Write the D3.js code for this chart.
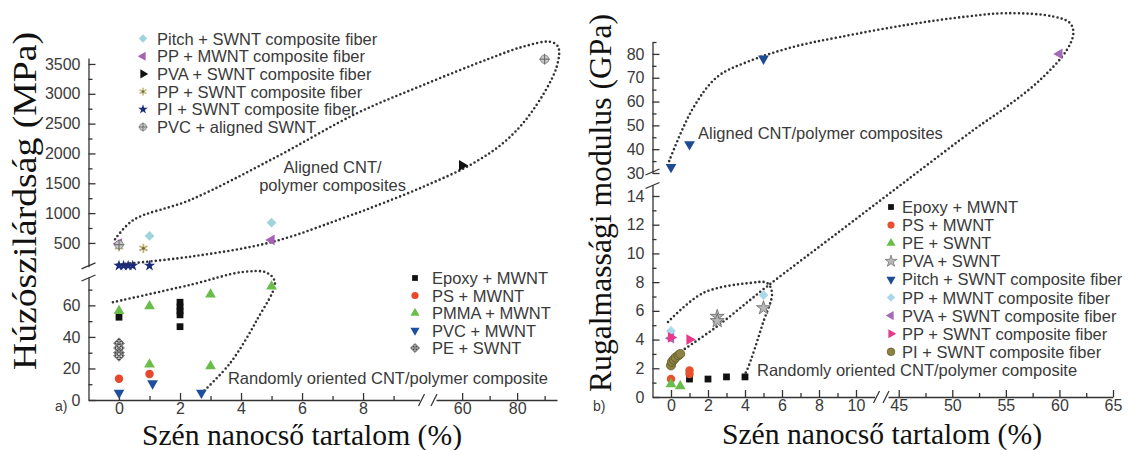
<!DOCTYPE html>
<html>
<head>
<meta charset="utf-8">
<script src="https://cdn.jsdelivr.net/npm/d3@7"></script>
<style>
  body { margin: 0; background: #fff; }
  svg { display: block; }
</style>
</head>
<body>
<svg id="chart"></svg>
<script>
// ---------- a) tensile strength (MPa) vs CNT content (%) ----------
// randomly oriented composites
const aEpoxyMwnt = [[0, 52.5], [2, 62], [2, 59], [2, 56.5], [2, 54], [2, 46.5]];
const aPsMwnt = [[0, 13.5], [1, 16.5]];
const aPmmaMwnt = [[0, 56.5], [1, 59.5], [1, 22.5], [3, 67], [3, 21.5], [5, 72]];
const aPvcMwnt = [[0, 4.5], [1.1, 10.5], [2.7, 4.5]];
const aPeSwnt = [[0, 36], [0, 33], [0, 30], [0, 28]];
// aligned composites / fibers
const aPitchSwntFiber = [[1, 617], [5, 840]];
const aPpMwntFiber = [[0, 490], [5, 550]];
const aPvaSwntFiber = [[60, 1800]];
const aPpSwntFiber = [[0, 437], [0.8, 410]];
const aPiSwntFiber = [[0, 120], [0.15, 120], [0.3, 120], [0.45, 120], [1, 120]];
const aPvcAlignedSwnt = [[0, 470], [90, 3580]];

// ---------- b) Young's modulus (GPa) vs CNT content (%) ----------
const bEpoxyMwnt = [[1, 1.25], [2, 1.25], [3, 1.4], [4, 1.4]];
const bPsMwnt = [[0, 1.25], [1, 1.6], [1, 1.85]];
const bPeSwnt = [[0, 0.9], [0.5, 0.75]];
const bPvaSwnt = [[2.5, 5.6], [2.5, 5.3], [5, 6.2]];
const bPitchSwntFiber = [[0, 32.5], [1, 42], [5, 78]];
const bPpMwntFiber = [[0, 4.6], [5, 7.1]];
const bPvaSwntFiber = [[0, 4.1], [60, 80]];
const bPpSwntFiber = [[0, 4.15], [1, 4.0]];
const bPiSwntFiber = [[0, 2.2], [0.05, 2.45], [0.15, 2.6], [0.25, 2.75], [0.4, 2.9], [0.5, 3.0]];

// ticks
const aXTicksLo = [0, 2, 4, 6, 8], aXMinorLo = [1, 3, 5, 7, 9];
const aXTicksHi = [60, 80], aXMinorHi = [70, 90];
const aYTicksLo = [0, 20, 40, 60], aYMinorLo = [10, 30, 50, 70];
const aYTicksHi = [500, 1000, 1500, 2000, 2500, 3000, 3500];
const aYMinorHi = [750, 1250, 1750, 2250, 2750, 3250];
const bXTicksLo = [0, 2, 4, 6, 8, 10], bXMinorLo = [1, 3, 5, 7, 9];
const bXTicksHi = [45, 50, 55, 60, 65], bXMinorHi = [47.5, 52.5, 57.5, 62.5];
const bYTicksLo = [0, 2, 4, 6, 8, 10, 12, 14], bYMinorLo = [1, 3, 5, 7, 9, 11, 13];
const bYTicksHi = [30, 40, 50, 60, 70, 80], bYMinorHi = [35, 45, 55, 65, 75, 85];

// dotted group outlines (data coordinates)
const aAlignedOutline = [[-0.13, 561], [0.47, 884], [2.33, 1219], [5.17, 1945], [7.79, 2672], [18.5, 3146],
  [70.1, 3594], [82.1, 3789], [91.9, 3872], [94.9, 3789], [94.4, 3454], [85.8, 2728], [76.2, 2225],
  [64, 1834], [19.2, 1442], [8.35, 1107], [7.47, 940], [5.06, 521], [2.33, 269], [-0.19, 130]];
const aRandomOutline = [[-0.2, 62], [2.33, 73], [4.08, 89], [4.85, 87], [5.11, 74.5], [4.52, 50.7],
  [3.64, 23.3], [2.76, 5.3]];
const bAlignedOutline = [[-0.1, 35], [1.14, 56.5], [2.49, 70.3], [4.11, 76.6], [6.59, 82.9], [9.14, 87.1],
  [45.75, 92.2], [51.36, 95.7], [55.1, 97.1], [59.45, 95.7], [61.0, 92.9], [61.3, 88.7], [60.7, 81.7],
  [58.2, 69.1], [55.1, 57.9], [52.0, 48.1], [45.75, 20.2], [9.14, 11.56], [5.17, 7.68], [2.47, 4.9],
  [0.12, 2.81]];
const bRandomOutline = [[-0.16, 5.22], [1.73, 7.24], [4.27, 7.94], [5.19, 7.94], [5.46, 7.24],
  [4.97, 5.15], [4.11, 1.88], [3.89, 1.39]];

const W = 1128, H = 450;
const ink = '#333';
const textInk = '#3a3a3a';
const sans = '"Liberation Sans", Arial, Helvetica, sans-serif';
const serif = '"Liberation Serif", "Times New Roman", serif';

const svg = d3.select('#chart').attr('width', W).attr('height', H);

const defs = svg.append('defs');
const hatch = defs.append('pattern').attr('id', 'hatch')
    .attr('patternUnits', 'userSpaceOnUse').attr('width', 2.6).attr('height', 2.6);
hatch.append('rect').attr('width', 2.6).attr('height', 2.6).attr('fill', '#ddd');
hatch.append('path').attr('d', 'M0,0L2.6,2.6M2.6,0L0,2.6').attr('stroke', '#333').attr('stroke-width', 0.8);

// two linear pieces -> one scale, so outlines can cross the axis breaks
function piecewise(lo, hi) {
    return d3.scaleLinear([...lo.domain(), ...hi.domain()], [...lo.range(), ...hi.range()]);
}

function marker(g, kind, color, px, py, k = 1) {
    const m = g.append('g').attr('transform', `translate(${px},${py}) scale(${k})`);
    const sym = (type, size, rot = 0) => m.append('path')
        .attr('d', d3.symbol(type, size)())
        .attr('transform', `rotate(${rot})`)
        .attr('fill', color);
    if (kind === 'square') sym(d3.symbolSquare, 46);
    else if (kind === 'circle') sym(d3.symbolCircle, 56);
    else if (kind === 'up') sym(d3.symbolTriangle, 50);
    else if (kind === 'down') sym(d3.symbolTriangle, 50, 180);
    else if (kind === 'left') sym(d3.symbolTriangle, 50, -90);
    else if (kind === 'right') sym(d3.symbolTriangle, 50, 90);
    else if (kind === 'diamond') sym(d3.symbolSquare, 48, 45);
    else if (kind === 'star') sym(d3.symbolStar, 40);
    else if (kind === 'grayStar') sym(d3.symbolStar, 60).attr('stroke', '#666').attr('stroke-width', 0.8);
    else if (kind === 'asterisk') {
        sym(d3.symbolAsterisk, 60).attr('fill', 'none').attr('stroke', color).attr('stroke-width', 1.8);
        sym(d3.symbolCircle, 6).attr('fill', '#6b6540');
    } else if (kind === 'hatch') {
        sym(d3.symbolSquare, 58, 45).attr('fill', 'url(#hatch)').attr('stroke', color).attr('stroke-width', 0.7);
    } else if (kind === 'oplus') {
        sym(d3.symbolCircle, 56).attr('stroke', '#777').attr('stroke-width', 0.8);
        sym(d3.symbolPlus, 40).attr('fill', 'none').attr('stroke', '#666').attr('stroke-width', 1);
    } else if (kind === 'olive') {
        sym(d3.symbolCircle, 64).attr('stroke', '#5e5725').attr('stroke-width', 0.8);
    }
}

function styleAxis(a) {
    a.attr('font-size', 16).attr('font-family', sans);
    a.selectAll('path, line').attr('stroke', ink).attr('stroke-width', 1.3);
    a.selectAll('text').attr('fill', textInk);
}

function yAxis(g, scale, major, minor, x0) {
    const a = g.append('g').attr('transform', `translate(${x0},0)`);
    a.call(d3.axisLeft(scale).tickValues(major).tickFormat(d3.format('d'))
        .tickSizeInner(-7).tickSizeOuter(0).tickPadding(8));
    const m = a.append('g').call(d3.axisLeft(scale).tickValues(minor)
        .tickSizeInner(-4).tickSizeOuter(0));
    m.select('.domain').remove();
    m.selectAll('text').remove();
    styleAxis(a);
}

function xAxis(g, scale, major, minor, y0) {
    const a = g.append('g').attr('transform', `translate(0,${y0})`);
    a.call(d3.axisBottom(scale).tickValues(major).tickFormat(d3.format('d'))
        .tickSizeInner(-7).tickSizeOuter(0).tickPadding(3));
    const m = a.append('g').call(d3.axisBottom(scale).tickValues(minor)
        .tickSizeInner(-4).tickSizeOuter(0));
    m.select('.domain').remove();
    m.selectAll('text').remove();
    styleAxis(a);
}

function drawPanel(p) {
    const g = svg.append('g');
    const x = piecewise(p.xLo, p.xHi);
    const y = piecewise(p.yLo, p.yHi);
    const x0 = p.xLo.range()[0];
    const y0 = p.yLo.range()[0];

    yAxis(g, p.yLo, p.yTicksLo, p.yMinorLo, x0);
    yAxis(g, p.yHi, p.yTicksHi, p.yMinorHi, x0);
    xAxis(g, p.xLo, p.xTicksLo, p.xMinorLo, y0);
    xAxis(g, p.xHi, p.xTicksHi, p.xMinorHi, y0);

    // break marks
    const brk = g.append('g').attr('stroke', ink).attr('stroke-width', 1.3).attr('fill', 'none');
    [p.yLo.range()[1] + 1, p.yHi.range()[0] - 1].forEach(v =>
        brk.append('path').attr('d', `M${x0 - 7},${v + 3}L${x0 + 7},${v - 3}`));
    [p.xLo.range()[1] + 2, p.xHi.range()[0] - 2].forEach(v =>
        brk.append('path').attr('d', `M${v - 3},${y0 + 6}L${v + 3},${y0 - 6}`));

    // dotted outlines
    const line = d3.line(d => x(d[0]), d => y(d[1])).curve(d3.curveCatmullRom.alpha(0.5));
    p.outlines.forEach(o => g.append('path').attr('d', line(o))
        .attr('fill', 'none').attr('stroke', ink).attr('stroke-width', 2.6)
        .attr('stroke-linecap', 'round').attr('stroke-dasharray', '0 4.3'));

    // group labels
    p.notes.forEach(n => g.append('text')
        .attr('x', x(n.at[0])).attr('y', y(n.at[1]) + (n.dy || 0))
        .attr('text-anchor', n.anchor).attr('dominant-baseline', 'central')
        .attr('font-family', sans).attr('font-size', 16.5).attr('fill', textInk)
        .text(n.text));

    // points
    p.series.forEach(s => s.data.forEach(d =>
        marker(g, s.mark, s.color, x(d[0]), y(d[1]))));

    // legends
    p.legends.forEach(L => L.items.forEach((s, i) => {
        const ry = L.y + i * L.step;
        marker(g, s.mark, s.color, L.x, ry, 0.85);
        g.append('text').attr('x', L.x + L.gap).attr('y', ry)
            .attr('dominant-baseline', 'central')
            .attr('font-family', sans).attr('font-size', 16.5).attr('fill', textInk)
            .text(s.label);
    }));

    // titles
    g.append('text')
        .attr('transform', `translate(${p.yTitleAt[0]},${p.yTitleAt[1]}) rotate(-90)`)
        .attr('text-anchor', 'middle').attr('font-family', serif)
        .attr('font-size', p.yTitleSize).attr('fill', '#111')
        .attr('textLength', p.yTitleLen).attr('lengthAdjust', 'spacingAndGlyphs')
        .text(p.yTitle);
    g.append('text')
        .attr('x', p.xTitleAt[0]).attr('y', p.xTitleAt[1])
        .attr('text-anchor', 'middle').attr('font-family', serif)
        .attr('font-size', 30).attr('fill', '#111')
        .attr('textLength', 320).attr('lengthAdjust', 'spacingAndGlyphs')
        .text('Szén nanocső tartalom (%)');
    g.append('text').attr('x', p.tagAt[0]).attr('y', p.tagAt[1])
        .attr('font-family', sans).attr('font-size', 14).attr('fill', textInk)
        .text(p.tag);
}

// ---------- panel a ----------
const aRandom = [
    {label: 'Epoxy + MWNT', data: aEpoxyMwnt, mark: 'square', color: '#111'},
    {label: 'PS + MWNT', data: aPsMwnt, mark: 'circle', color: '#e8472c'},
    {label: 'PMMA + MWNT', data: aPmmaMwnt, mark: 'up', color: '#6abd4b'},
    {label: 'PVC + MWNT', data: aPvcMwnt, mark: 'down', color: '#1e4f9c'},
    {label: 'PE + SWNT', data: aPeSwnt, mark: 'hatch', color: '#555'}
];
const aAligned = [
    {label: 'Pitch + SWNT composite fiber', data: aPitchSwntFiber, mark: 'diamond', color: '#9fd4dc'},
    {label: 'PP + MWNT composite fiber', data: aPpMwntFiber, mark: 'left', color: '#a462b2'},
    {label: 'PVA + SWNT composite fiber', data: aPvaSwntFiber, mark: 'right', color: '#111'},
    {label: 'PP + SWNT composite fiber', data: aPpSwntFiber, mark: 'asterisk', color: '#bdb277'},
    {label: 'PI + SWNT composite fiber', data: aPiSwntFiber, mark: 'star', color: '#1c2a7a'},
    {label: 'PVC + aligned SWNT', data: aPvcAlignedSwnt, mark: 'oplus', color: '#c8c8c8'}
];

drawPanel({
    xLo: d3.scaleLinear([-1, 9.85], [88.5, 419.5]),
    xHi: d3.scaleLinear([50.5, 94.5], [436, 557]),
    yLo: d3.scaleLinear([0, 78], [400, 277]),
    yHi: d3.scaleLinear([100, 3600], [266.8, 58]),
    xTicksLo: aXTicksLo, xMinorLo: aXMinorLo, xTicksHi: aXTicksHi, xMinorHi: aXMinorHi,
    yTicksLo: aYTicksLo, yMinorLo: aYMinorLo, yTicksHi: aYTicksHi, yMinorHi: aYMinorHi,
    outlines: [aAlignedOutline, aRandomOutline],
    notes: [
        {text: 'Aligned CNT/', at: [7, 1622], dy: -9, anchor: 'middle'},
        {text: 'polymer composites', at: [7, 1622], dy: 9, anchor: 'middle'},
        {text: 'Randomly oriented CNT/polymer composite', at: [3.57, 14], anchor: 'start'}
    ],
    series: [...aRandom, ...aAligned],
    legends: [
        {items: aAligned, x: 143, y: 38.5, step: 17.7, gap: 14},
        {items: aRandom, x: 415, y: 278, step: 17.5, gap: 17}
    ],
    yTitle: 'Húzószilárdság (MPa)', yTitleAt: [36, 201], yTitleSize: 34, yTitleLen: 338,
    xTitleAt: [302, 445],
    tag: 'a)', tagAt: [55, 411]
});

// ---------- panel b ----------
const bSeries = [
    {label: 'Epoxy + MWNT', data: bEpoxyMwnt, mark: 'square', color: '#111'},
    {label: 'PS + MWNT', data: bPsMwnt, mark: 'circle', color: '#e8502e'},
    {label: 'PE + SWNT', data: bPeSwnt, mark: 'up', color: '#6abd4b'},
    {label: 'PVA + SWNT', data: bPvaSwnt, mark: 'grayStar', color: '#b8b8b8'},
    {label: 'Pitch + SWNT composite fiber', data: bPitchSwntFiber, mark: 'down', color: '#1f4b92'},
    {label: 'PP + MWNT composite fiber', data: bPpMwntFiber, mark: 'diamond', color: '#a9d8e8'},
    {label: 'PVA + SWNT composite fiber', data: bPvaSwntFiber, mark: 'left', color: '#a26cb8'},
    {label: 'PP + SWNT composite fiber', data: bPpSwntFiber, mark: 'right', color: '#e8398a'},
    {label: 'PI + SWNT composite fiber', data: bPiSwntFiber, mark: 'olive', color: '#8c8342'}
];

drawPanel({
    xLo: d3.scaleLinear([-1, 11], [652.5, 874.5]),
    xHi: d3.scaleLinear([44, 65], [888, 1113]),
    yLo: d3.scaleLinear([0, 14.8], [397, 184.5]),
    yHi: d3.scaleLinear([30, 85], [173, 42]),
    xTicksLo: bXTicksLo, xMinorLo: bXMinorLo, xTicksHi: bXTicksHi, xMinorHi: bXMinorHi,
    yTicksLo: bYTicksLo, yMinorLo: bYMinorLo, yTicksHi: bYTicksHi, yMinorHi: bYMinorHi,
    outlines: [bAlignedOutline, bRandomOutline],
    notes: [
        {text: 'Aligned CNT/polymer composites', at: [1.46, 46.8], anchor: 'start'},
        {text: 'Randomly oriented CNT/polymer composite', at: [4.65, 1.88], anchor: 'start'}
    ],
    series: bSeries,
    legends: [{items: bSeries, x: 891, y: 207, step: 18.1, gap: 11}],
    yTitle: 'Rugalmassági modulus (GPa)', yTitleAt: [611, 203], yTitleSize: 32, yTitleLen: 378,
    xTitleAt: [882, 444],
    tag: 'b)', tagAt: [593, 411]
});
</script>
</body>
</html>
